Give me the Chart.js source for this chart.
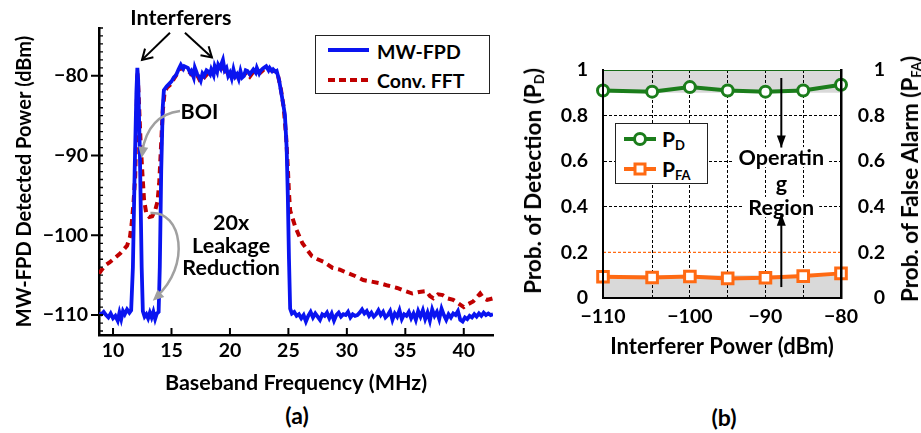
<!DOCTYPE html>
<html>
<head>
<meta charset="utf-8">
<script src="https://cdn.jsdelivr.net/npm/chart.js@4.4.1/dist/chart.umd.min.js"></script>
<style>
  body { margin: 0; width: 921px; height: 433px; background: #fff; position: relative; overflow: hidden;
         font-family: Lato, sans-serif; font-weight: bold; color: #000; }
  canvas { position: absolute; }
  #chartA { left: 0; top: 0; }
  #chartB { left: 505px; top: 0; }
  .txt { position: absolute; white-space: nowrap; line-height: 1; transform: translate(-50%, -50%); font-size: 22.5px; }
  .rot { transform: translate(-50%, -50%) rotate(-90deg); }
  .legend { position: absolute; box-sizing: border-box; border: 1.5px solid #222; background: #fff; }
  .legend svg { position: absolute; }
  .legend span { position: absolute; font-size: 19px; line-height: 1; transform: translateY(-50%); white-space: nowrap; }
  sub { font-size: 13px; vertical-align: -3px; }
</style>
</head>
<body>
<canvas id="chartA" width="505" height="400"></canvas>
<canvas id="chartB" width="416" height="370"></canvas>

<div class="legend" style="left:315px;top:35px;width:175px;height:59px;">
  <svg style="left:11px;top:6px" width="44" height="46">
    <line x1="1" y1="8" x2="42" y2="8" stroke="#0a14f0" stroke-width="4"/>
    <line x1="1" y1="38" x2="42" y2="38" stroke="#c00000" stroke-width="4" stroke-dasharray="7,4"/>
  </svg>
  <span style="left:61px;top:16px;font-size:19.5px">MW-FPD</span>
  <span style="left:61px;top:45px;font-size:19.5px">Conv. FFT</span>
</div>

<div class="legend" style="left:615px;top:123px;width:93px;height:61px;">
  <svg style="left:6px;top:2px" width="36" height="56">
    <line x1="2" y1="13" x2="34" y2="13" stroke="#1b7d1b" stroke-width="4"/>
    <circle cx="18" cy="13" r="5.5" fill="#fff" stroke="#1b7d1b" stroke-width="3"/>
    <line x1="2" y1="43" x2="34" y2="43" stroke="#ff6a13" stroke-width="4"/>
    <rect x="13" y="38" width="10" height="10" fill="#fff" stroke="#ff6a13" stroke-width="3"/>
  </svg>
  <span style="left:46px;top:16px;font-size:21px">P<sub>D</sub></span>
  <span style="left:46px;top:46px;font-size:21px">P<sub>FA</sub></span>
</div>

<div class="txt rot" style="left:534px;top:181px">Prob. of Detection (P<sub>D</sub>)</div>
<div class="txt rot" style="left:911px;top:179px">Prob. of False Alarm (P<sub>FA</sub>)</div>
<div class="txt" style="left:297px;top:415px;font-size:23px">(a)</div>
<div class="txt" style="left:724px;top:417px;font-size:23px">(b)</div>

<script>
// ---- (a) spectrum ----
const fpdFreq = [8.8, 9.0, 9.2, 9.4, 9.6, 9.8, 10.0, 10.2, 10.4, 10.55, 10.7, 10.85, 11.0, 11.2, 11.4, 11.55,
  11.7, 11.85, 12.0, 12.08, 12.15, 12.3, 12.45, 12.55,
  12.7, 12.85, 13.0, 13.15, 13.3, 13.45, 13.6, 13.75, 13.9,
  14.0, 14.12, 14.25, 14.35,
  14.6, 14.8, 15.0, 15.2, 15.4, 15.6, 15.8, 16.0, 16.1, 16.4, 16.6, 16.7, 16.9, 17.0, 17.2, 17.35, 17.5, 17.65,
  17.8, 18.0, 18.1, 18.3, 18.4, 18.6, 18.7, 18.9, 19.0, 19.2, 19.3, 19.4, 19.55, 19.7, 19.85, 20.0, 20.15, 20.3,
  20.45, 20.6, 20.75, 20.9, 21.05, 21.2, 21.35, 21.5, 21.7, 21.85, 22.0, 22.2, 22.3, 22.5, 22.6, 22.8, 22.9, 23.1,
  23.3, 23.4, 23.6, 23.7, 23.9, 24.0, 24.2, 24.4, 24.55, 24.7, 24.85, 24.95, 25.05, 25.15,
  25.3, 25.5, 25.7, 25.9, 26.1, 26.3, 26.5, 26.7, 26.9, 27.1, 27.3, 27.5, 27.7, 27.9, 28.1, 28.3, 28.5, 28.7, 28.9,
  29.1, 29.3, 29.5, 29.7, 29.9, 30.1, 30.3, 30.5, 30.7, 30.9, 31.1, 31.3, 31.5, 31.7, 31.9, 32.1, 32.3, 32.5, 32.7,
  32.9, 33.1, 33.3, 33.5, 33.7, 33.9, 34.1, 34.3, 34.5, 34.7, 34.9, 35.1, 35.3, 35.5, 35.7, 35.9, 36.1, 36.3, 36.5,
  36.7, 36.9, 37.1, 37.3, 37.5, 37.7, 37.9, 38.1, 38.3, 38.5, 38.7, 38.9, 39.1, 39.3, 39.5, 39.7, 39.9, 40.1, 40.3,
  40.5, 40.7, 40.9, 41.1, 41.3, 41.5, 41.7, 41.9, 42.1, 42.3, 42.5];
const fpdPower = [-109.8, -109.9, -109.6, -110.0, -110.3, -109.8, -110.4, -110.1, -110.7, -109.7, -110.5, -109.5, -109.9, -109.3, -109.7, -109.4,
  -104, -92, -82, -79.0, -80.5, -90, -104, -109.5,
  -110.2, -109.9, -110.4, -109.7, -110.3, -109.6, -110.5, -109.8, -109.6,
  -104, -92, -84, -81.8,
  -81.3, -81.0, -80.7, -80.2, -79.9, -79.2, -78.6, -79.1, -78.8, -79.0, -79.6, -79.4, -80.2, -79.0, -79.8, -80.1, -80.6, -79.7,
  -80.0, -79.3, -79.4, -79.8, -79.2, -79.9, -78.8, -79.5, -78.6, -79.1, -78.4, -78.0, -79.3, -79.0, -80.0, -79.6, -80.3, -79.2,
  -80.1, -79.8, -80.4, -79.4, -80.2, -80.0, -79.3, -79.4, -79.8, -79.5, -79.2, -79.6, -79.0, -79.7, -79.4, -79.1, -79.0, -78.8,
  -79.3, -79.0, -79.4, -79.2, -79.5, -79.4, -80.5, -82.2, -83.5, -84.9, -89, -95, -103, -109.2,
  -109.8, -109.6, -110.1, -109.9, -110.4, -110.0, -110.8, -110.1, -109.6, -110.3, -109.8, -110.2, -110.6, -109.9, -110.1, -109.7, -110.4, -109.8, -110.7,
  -110.0, -109.7, -110.2, -109.9, -110.0, -109.6, -110.3, -109.9, -110.1, -110.0, -109.7, -109.3, -109.8, -109.5, -110.1, -109.7, -110.2, -109.9, -109.4,
  -110.0, -109.6, -110.3, -110.0, -109.5, -110.6, -109.8, -110.2, -109.4, -110.5, -109.9, -110.1, -109.6, -110.4, -109.8, -110.6, -109.5, -110.2, -109.4,
  -110.5, -109.7, -110.7, -109.3, -110.1, -109.6, -110.5, -109.2, -110.0, -110.6, -109.9, -110.3, -109.8, -110.0, -109.5, -110.6, -110.8, -110.3, -110.5,
  -110.1, -110.3, -109.9, -110.2, -109.8, -110.1, -109.7, -110.0, -109.8, -110.0, -109.9];

const fftFreq = [8.8, 9.0, 9.3, 9.7, 10.1, 10.6, 10.9, 11.2, 11.45, 11.6, 11.75, 11.9, 12.0, 12.08, 12.18, 12.35, 12.5,
  12.65, 12.85, 13.1, 13.35, 13.6, 13.8, 13.95, 14.1, 14.25, 14.4, 14.6,
  14.9, 15.2, 15.5, 15.8, 16.1, 16.4, 16.7, 17.0, 17.3, 17.5, 17.8, 18.1, 18.4, 18.7, 19.0, 19.3, 19.6, 19.9, 20.2,
  20.5, 20.8, 21.1, 21.4, 21.7, 22.0, 22.3, 22.6, 22.9, 23.2, 23.5, 23.8, 24.1, 24.35, 24.6, 24.8, 24.95, 25.05, 25.15,
  25.6, 26.2, 27.0, 27.5, 28.0, 28.8, 29.4, 30.0, 30.7, 31.4, 32.1, 32.8, 33.5, 34.3, 35.0, 35.6, 36.2, 36.8, 37.1,
  37.4, 37.8, 38.2, 38.6, 39.1, 39.6, 40.0, 40.4, 40.8, 41.1, 41.4, 41.7, 42.0, 42.5];
const fftPower = [-104.8, -104.4, -103.8, -103.4, -102.9, -102.3, -101.8, -101.3, -100.2, -98.5, -96.0, -92.5, -86, -79.5, -82, -88, -92,
  -95.5, -97.3, -97.7, -97.6, -96.9, -95.8, -93.5, -89, -84.5, -82.2, -81.5,
  -81.1, -80.4, -79.7, -79.0, -79.2, -79.3, -79.8, -79.5, -80.2, -80.8, -80.2, -79.7, -79.5, -79.1, -78.9, -78.8, -79.4, -80.0, -80.0,
  -80.2, -80.3, -80.0, -79.6, -80.1, -79.5, -79.3, -79.6, -79.2, -79.1, -79.3, -79.4, -79.9, -81.6, -84.0, -87.5, -91.5, -94.7, -96.9,
  -99.0, -101.0, -102.6, -103.0, -103.3, -104.1, -104.3, -104.7, -105.1, -105.6, -105.8, -106.0, -106.3, -106.6, -107.0, -107.3, -107.1, -107.0, -107.6,
  -107.9, -107.4, -107.5, -107.9, -108.1, -108.6, -109.0, -108.6, -108.3, -107.8, -107.3, -107.9, -108.1, -107.9];

const freqTicks = [10, 15, 20, 25, 30, 35, 40];
const powerTicks = [-110, -100, -90, -80];

// ---- (b) detection ----
const interfererPower = [-111.5, -105, -100, -95, -90, -85, -80];
const interfererLabels = ['\u2212110', '', '\u2212100', '', '\u221290', '', '\u221280'];
const probDetection = [0.91, 0.905, 0.925, 0.91, 0.905, 0.91, 0.935];
const probFalseAlarm = [0.093, 0.09, 0.094, 0.086, 0.089, 0.096, 0.108];
const probTicks = [0, 0.2, 0.4, 0.6, 0.8, 1];
const pdRequired = 0.9;
const pfaAllowed = 0.1;
const pfaGuide = 0.2;

Chart.defaults.font.family = 'Lato';
Chart.defaults.font.weight = 'bold';
Chart.defaults.font.size = 19.5;
Chart.defaults.color = '#000';

const toPoints = (xs, ys) => xs.map((x, i) => ({ x: x, y: ys[i] }));
const minus = v => String(v).replace('-', '\u2212');

function arrowHead(ctx, fx, fy, tx, ty, len, wid, filled) {
  const a = Math.atan2(ty - fy, tx - fx);
  const lx = tx - len * Math.cos(a) + wid * Math.sin(a), ly = ty - len * Math.sin(a) - wid * Math.cos(a);
  const rx = tx - len * Math.cos(a) - wid * Math.sin(a), ry = ty - len * Math.sin(a) + wid * Math.cos(a);
  ctx.beginPath();
  ctx.moveTo(lx, ly); ctx.lineTo(tx, ty); ctx.lineTo(rx, ry);
  if (filled) { ctx.closePath(); ctx.fill(); } else ctx.stroke();
}

// inward/outward tick marks for (a)
const ticksA = {
  id: 'ticksA',
  afterDraw(chart) {
    const { ctx, chartArea, scales: { x, y } } = chart;
    ctx.save();
    ctx.strokeStyle = '#000';
    ctx.lineWidth = 2;
    ctx.beginPath();
    x.ticks.forEach(t => {
      const px = x.getPixelForValue(t.value);
      ctx.moveTo(px, chartArea.bottom); ctx.lineTo(px, chartArea.bottom - 7);
    });
    y.ticks.forEach(t => {
      const py = y.getPixelForValue(t.value);
      ctx.moveTo(chartArea.left - 8, py); ctx.lineTo(chartArea.left + 4, py);
    });
    ctx.stroke();
    ctx.lineWidth = 1.3;
    ctx.beginPath();
    for (let v = Math.ceil(y.min); v <= y.max; v++) {
      if (v % 10 === 0) continue;
      const py = y.getPixelForValue(v);
      ctx.moveTo(chartArea.left, py); ctx.lineTo(chartArea.left + 4, py);
    }
    ctx.stroke();
    ctx.restore();
  }
};

// annotations for (a)
const notesA = {
  id: 'notesA',
  afterDraw(chart) {
    const { ctx, scales: { x, y } } = chart;
    const P = (f, p) => [x.getPixelForValue(f), y.getPixelForValue(p)];
    ctx.save();
    ctx.font = 'bold 21.5px Lato';
    ctx.fillStyle = '#000';
    ctx.textAlign = 'center';
    ctx.textBaseline = 'middle';
    let q = P(15.8, -72.7); ctx.fillText('Interferers', q[0], q[1]);
    q = P(17.4, -84.5); ctx.fillText('BOI', q[0], q[1]);
    q = P(20.1, -98.5); ctx.fillText('20x', q[0], q[1]);
    q = P(20.1, -101.3); ctx.fillText('Leakage', q[0], q[1]);
    q = P(20.1, -104.15); ctx.fillText('Reduction', q[0], q[1]);

    // black interferer arrows
    ctx.strokeStyle = '#000';
    ctx.lineWidth = 2;
    [[14.87, -74.6, 12.48, -78.0], [16.15, -74.6, 18.46, -77.7]].forEach(a => {
      const s = P(a[0], a[1]), e = P(a[2], a[3]);
      ctx.beginPath(); ctx.moveTo(s[0], s[1]); ctx.lineTo(e[0], e[1]); ctx.stroke();
      arrowHead(ctx, s[0], s[1], e[0], e[1], 10, 6, false);
    });

    // gray curved arrows
    ctx.strokeStyle = '#a0a0a0';
    ctx.fillStyle = '#a0a0a0';
    ctx.lineWidth = 2.5;
    let s = P(15.73, -84.4), c = P(12.99, -84.9), e = P(12.48, -89.6);
    ctx.beginPath(); ctx.moveTo(s[0], s[1]); ctx.quadraticCurveTo(c[0], c[1], e[0], e[1]); ctx.stroke();
    const eb = P(12.45, -90.3);
    arrowHead(ctx, c[0], c[1], eb[0], eb[1], 11, 5, true);

    s = P(13.2, -97.2);
    const c1 = P(15.9, -96.9), c2 = P(16.7, -103.8);
    e = P(13.7, -107.7);
    ctx.beginPath(); ctx.moveTo(s[0], s[1]); ctx.bezierCurveTo(c1[0], c1[1], c2[0], c2[1], e[0], e[1]); ctx.stroke();
    const e2 = P(13.4, -108.2);
    arrowHead(ctx, c2[0], c2[1], e2[0], e2[1], 11, 5, true);
    ctx.restore();
  }
};

new Chart(document.getElementById('chartA'), {
  type: 'line',
  data: {
    datasets: [
      { label: 'MW-FPD', data: toPoints(fpdFreq, fpdPower), borderColor: '#0a14f0', borderWidth: 3.8,
        pointRadius: 0, tension: 0, fill: false },
      { label: 'Conv. FFT', data: toPoints(fftFreq, fftPower), borderColor: '#c00000', borderWidth: 4,
        borderDash: [7, 5], pointRadius: 0, tension: 0, fill: false }
    ]
  },
  options: {
    responsive: false,
    animation: false,
    devicePixelRatio: 1,
    layout: { padding: { left: 0, top: 28, right: 12, bottom: 0 } },
    plugins: { legend: { display: false }, tooltip: { enabled: false } },
    scales: {
      x: {
        type: 'linear', min: 8.8, max: 42.5,
        afterBuildTicks: s => { s.ticks = freqTicks.map(v => ({ value: v })); },
        afterFit: s => { s.height = 65; },
        ticks: { padding: 4, maxRotation: 0, autoSkip: false },
        grid: { display: false, drawTicks: false },
        border: { display: true, color: '#000', width: 2.5 },
        title: { display: true, text: 'Baseband Frequency (MHz)', font: { size: 21.5 }, padding: { top: 0, bottom: 4 } }
      },
      y: {
        min: -112.5, max: -74,
        afterBuildTicks: s => { s.ticks = powerTicks.map(v => ({ value: v })); },
        afterFit: s => { s.width = 99; },
        ticks: { padding: 11, callback: v => minus(v) },
        grid: { display: false, drawTicks: false },
        border: { display: true, color: '#000', width: 2.5 },
        title: { display: true, text: 'MW-FPD Detected Power (dBm)', font: { size: 20 }, padding: { top: 13, bottom: 0 } }
      }
    }
  },
  plugins: [ticksA, notesA]
});

// annotations for (b)
const notesB = {
  id: 'notesB',
  afterDraw(chart) {
    const { ctx, scales: { x, y } } = chart;
    const P = (pw, pr) => [x.getPixelForValue(pw), y.getPixelForValue(pr)];
    ctx.save();
    ctx.font = 'bold 21.5px Lato';
    ctx.textAlign = 'center';
    ctx.textBaseline = 'middle';
    [['Operatin', 0.618], ['g', 0.504], ['Region', 0.399]].forEach(l => {
      const q = P(-87.9, l[1]);
      const w = ctx.measureText(l[0]).width;
      ctx.fillStyle = '#fff';
      ctx.fillRect(q[0] - w / 2 - 5, q[1] - 10, w + 10, 20);
      ctx.fillStyle = '#000';
      ctx.fillText(l[0], q[0], q[1] + 1);
    });
    ctx.strokeStyle = '#000';
    ctx.fillStyle = '#000';
    ctx.lineWidth = 2;
    [[0.965, 0.66], [0.048, 0.37]].forEach(a => {
      const s = P(-87.9, a[0]), e = P(-87.9, a[1]);
      ctx.beginPath(); ctx.moveTo(s[0], s[1]); ctx.lineTo(e[0], e[1]); ctx.stroke();
      arrowHead(ctx, s[0], s[1], e[0], e[1], 12, 4.5, true);
    });
    ctx.restore();
  }
};

const edge = [interfererPower[0], interfererPower[interfererPower.length - 1]];
const flat = v => edge.map(p => ({ x: p, y: v }));

new Chart(document.getElementById('chartB'), {
  type: 'line',
  data: {
    datasets: [
      { label: 'PD', data: toPoints(interfererPower, probDetection), borderColor: '#1b7d1b', borderWidth: 4,
        pointStyle: 'circle', pointRadius: 5.5, pointBorderWidth: 3, pointBackgroundColor: '#fff',
        pointBorderColor: '#1b7d1b', tension: 0, clip: false },
      { label: 'PFA', data: toPoints(interfererPower, probFalseAlarm), borderColor: '#ff6a13', borderWidth: 4,
        pointStyle: 'rect', pointRadius: 7.5, pointBorderWidth: 3, pointBackgroundColor: '#fff',
        pointBorderColor: '#ff6a13', tension: 0, clip: false },
      { label: 'PD region', data: flat(pdRequired), borderWidth: 0, pointRadius: 0, fill: 'end',
        backgroundColor: 'rgba(0,0,0,0.15)' },
      { label: 'PFA region', data: flat(pfaAllowed), borderWidth: 0, pointRadius: 0, fill: 'start',
        backgroundColor: 'rgba(0,0,0,0.15)' },
      { label: 'PD top', data: flat(1), borderColor: '#1b7d1b', borderWidth: 2, pointRadius: 0, fill: false },
      { label: 'PFA guide', data: flat(pfaGuide), borderColor: '#ff6a13', borderWidth: 1.2, borderDash: [3, 2],
        pointRadius: 0, fill: false }
    ]
  },
  options: {
    responsive: false,
    animation: false,
    devicePixelRatio: 1,
    layout: { padding: { left: 0, top: 70, right: 36, bottom: 0 } },
    plugins: { legend: { display: false }, tooltip: { enabled: false } },
    scales: {
      x: {
        type: 'linear', min: edge[0], max: edge[1],
        afterBuildTicks: s => { s.ticks = interfererPower.map(v => ({ value: v })); },
        afterFit: s => { s.height = 72; },
        ticks: { padding: 7, maxRotation: 0, autoSkip: false, callback: (v, i) => interfererLabels[i] },
        grid: { drawTicks: false, lineWidth: 1,
          color: c => (c.index > 0 && c.index < interfererPower.length - 1) ? '#000' : 'rgba(0,0,0,0)' },
        border: { display: true, color: '#000', width: 2, dash: [3, 2], z: 1 },
        title: { display: true, text: 'Interferer Power (dBm)', font: { size: 22 }, padding: { top: 0, bottom: 10 } }
      },
      y: {
        min: 0, max: 1,
        afterBuildTicks: s => { s.ticks = probTicks.map(v => ({ value: v })); },
        afterFit: s => { s.width = 98; },
        ticks: { padding: 15, callback: v => String(v) },
        grid: { drawTicks: false, lineWidth: 1,
          color: c => (c.tick && c.tick.value > 0.3 && c.tick.value < 0.9) ? '#000' : 'rgba(0,0,0,0)' },
        border: { display: true, color: '#000', width: 2, dash: [3, 2], z: 1 }
      },
      y2: {
        position: 'right', min: 0, max: 1,
        afterBuildTicks: s => { s.ticks = probTicks.map(v => ({ value: v })); },
        afterFit: s => { s.width = 44; },
        ticks: { padding: 16, crossAlign: 'far', callback: v => String(v) },
        grid: { display: true, drawOnChartArea: false, drawTicks: false, color: 'rgba(0,0,0,0)' },
        border: { display: true, color: '#000', width: 2.5, z: 1 }
      }
    }
  },
  plugins: [notesB]
});
</script>
</body>
</html>
